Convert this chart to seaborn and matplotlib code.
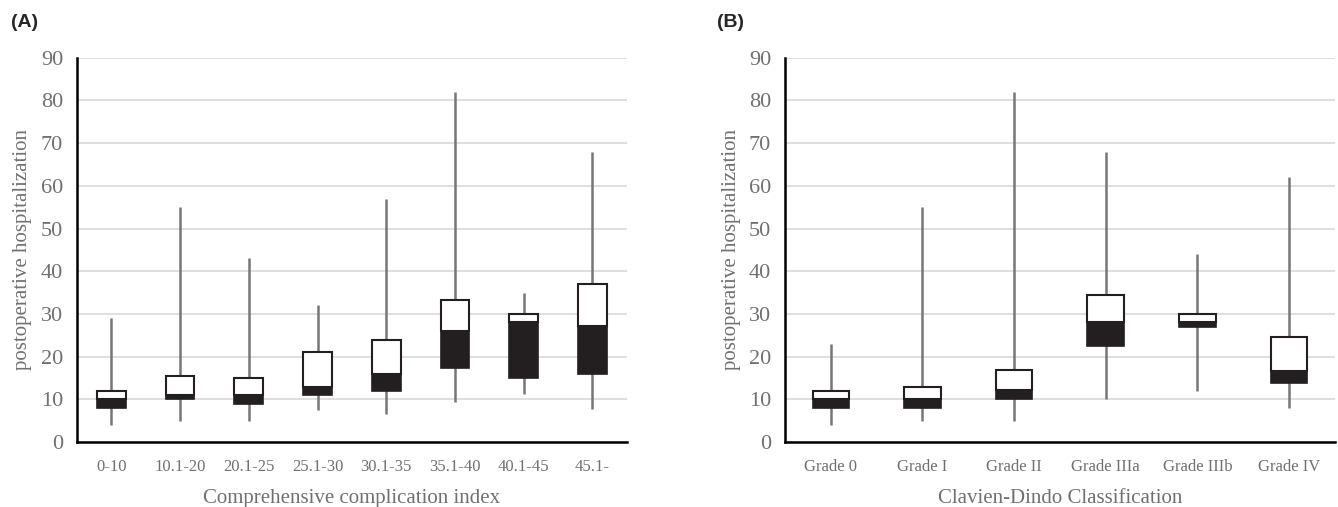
import numpy as np
import pandas as pd
import matplotlib
matplotlib.use("Agg")
import matplotlib.pyplot as plt
import seaborn as sns

# Panel A: comprehensive complication index groups
cci_groups = ['0-10', '10.1-20', '20.1-25', '25.1-30', '30.1-35', '35.1-40', '40.1-45', '45.1-']
cci_min = [4, 5, 5, 7.5, 6.6, 9.5, 11.2, 7.7]
cci_q1 = [8, 10, 9, 11, 12, 17.4, 15, 16]
cci_med = [10, 11, 11, 13, 16, 26, 28.2, 27.1]
cci_q3 = [12, 15.5, 15, 21, 24, 33.3, 30, 37]
cci_max = [29, 55, 43, 32, 57, 82, 35, 68]

# Panel B: Clavien-Dindo grades
cd_groups = ['Grade 0', 'Grade I', 'Grade II', 'Grade IIIa', 'Grade IIIb', 'Grade IV']
cd_min = [4.1, 5, 5, 10, 12, 8.1]
cd_q1 = [8, 8, 10, 22.5, 27, 13.8]
cd_med = [10, 10, 12.2, 28.1, 28.1, 16.6]
cd_q3 = [12, 13, 17, 34.5, 30, 24.5]
cd_max = [23, 55, 82, 68, 44, 62]

sns.set_style("white")
plt.rcParams['font.family'] = ['Liberation Serif', 'DejaVu Serif']

text_grey = '#707070'
box_dark = '#231f20'


def draw_panel(ax, groups, mn, q1, med, q3, mx, xlabel, box_w):
    df = pd.DataFrame({'group': groups, 'min': mn, 'q1': q1, 'med': med, 'q3': q3, 'max': mx})
    x = np.arange(len(df))
    ax.vlines(x, df['min'], df['max'], color='#777777', lw=1.8, zorder=2)
    # lower half of box: Q1 to median (black)
    ax.bar(x, df['med'] - df['q1'], bottom=df['q1'], width=box_w,
           color=box_dark, edgecolor=box_dark, lw=1.2, zorder=3)
    # upper half of box: median to Q3 (white)
    ax.bar(x, df['q3'] - df['med'], bottom=df['med'], width=box_w,
           color='white', edgecolor=box_dark, lw=1.5, zorder=3)
    ax.set_xlim(-0.5, len(df) - 0.5)
    ax.set_ylim(0, 90)
    ax.set_yticks(range(0, 91, 10))
    ax.set_xticks(x)
    ax.set_xticklabels(df['group'])
    ax.yaxis.grid(True, color='#d9d9d9', lw=1.2, zorder=0)
    ax.set_axisbelow(True)
    sns.despine(ax=ax)
    for side in ['left', 'bottom']:
        ax.spines[side].set_color('black')
        ax.spines[side].set_linewidth(1.8)
    ax.tick_params(axis='y', length=0, pad=10, labelsize=16, labelcolor=text_grey)
    ax.tick_params(axis='x', length=0, pad=12, labelsize=12, labelcolor=text_grey)
    ax.set_ylabel('postoperative hospitalization', fontsize=15, color=text_grey, labelpad=6)
    ax.set_xlabel(xlabel, fontsize=15, color=text_grey, labelpad=10)


fig = plt.figure(figsize=(13.38, 5.07), dpi=100)
ax_a = fig.add_axes([0.0575, 0.128, 0.411, 0.758])
ax_b = fig.add_axes([0.5867, 0.128, 0.411, 0.758])

draw_panel(ax_a, cci_groups, cci_min, cci_q1, cci_med, cci_q3, cci_max,
           'Comprehensive complication index', 0.42)
draw_panel(ax_b, cd_groups, cd_min, cd_q1, cd_med, cd_q3, cd_max,
           'Clavien-Dindo Classification', 0.40)

fig.text(0.008, 0.955, '(A)', fontsize=14, fontweight='bold', family='Liberation Sans', va='center')
fig.text(0.536, 0.955, '(B)', fontsize=14, fontweight='bold', family='Liberation Sans', va='center')

fig.savefig('out.png', dpi=100)
